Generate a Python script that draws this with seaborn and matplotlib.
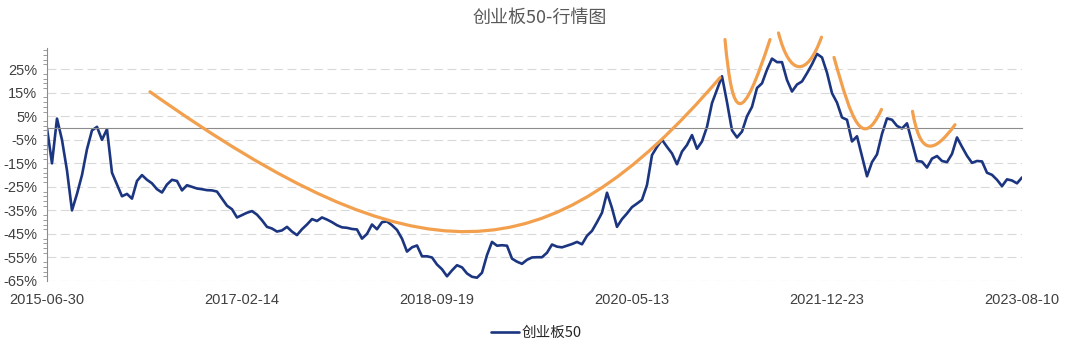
import numpy as np
import pandas as pd
import matplotlib
matplotlib.use('Agg')
import matplotlib.pyplot as plt
from matplotlib.path import Path
from matplotlib.patches import PathPatch
from matplotlib.ticker import FixedLocator
import seaborn as sns

# 创业板50 累计涨跌幅(%), 图上等距读数, 2015-06-30 -> 2023-08-10
values = [
    0.0, -15, 4.0, -5, -18, -35, -28, -20, -9, -1,
    0.5, -5, -0.5, -19, -24, -29, -28, -30, -22.5, -20,
    -22, -23.5, -26, -27.4, -24, -22, -22.5, -26.5, -24.3, -25,
    -25.7, -26, -26.4, -26.5, -27, -30, -33, -34.5, -38, -37,
    -36, -35.3, -36.8, -39.2, -42, -42.7, -44, -43.5, -42, -44,
    -45.5, -43, -41, -38.7, -39.5, -38, -38.9, -40, -41.3, -42.2,
    -42.4, -42.9, -43.1, -47, -45, -41, -43, -40, -39.7, -41.3,
    -43.3, -47, -52.5, -50.7, -49.9, -54.5, -54.5, -55, -58, -60,
    -63, -60.5, -58.3, -59.2, -61.8, -63.2, -63.6, -61.5, -54, -48.4,
    -50, -49.8, -50, -55.5, -56.8, -57.7, -56, -55, -54.9, -54.9,
    -53, -49.5, -50.4, -50.7, -50, -49.3, -48.4, -49.4, -45.8, -43.7,
    -40, -36, -27.5, -34, -42, -38.7, -36.3, -33.6, -32.1, -30.5,
    -24.2, -11.5, -8, -5, -8, -10.8, -15.4, -10, -7.2, -3,
    -8.8, -5.7, 0.5, 10.6, 16.3, 22, 11, -1, -4, -1.5,
    5, 9, 17, 19, 24.8, 29.5, 28, 28, 20.4, 15.5,
    18.5, 19.8, 23.3, 27.1, 31.5, 30, 23.5, 14.8, 10.8, 4.5,
    3.5, -5.7, -3.5, -12, -20.5, -14.5, -11.2, -2.5, 4.1, 3.5,
    0.9, -0.2, 2, -6, -14, -14.3, -16.8, -13, -11.9, -14,
    -14.5, -11, -4, -8, -11.8, -14.8, -14, -14.2, -19, -19.9,
    -22, -24.7, -21.8, -22.3, -23.5, -21,
]
date_labels = ['2015-06-30', '2017-02-14', '2018-09-19', '2020-05-13', '2021-12-23', '2023-08-10']
y_ticks = list(range(-65, 26, 10))

# 橙色手绘弧线: 起点, 控制点1, 控制点2, 终点 (x 为序号位置, y 为 %)
arc_big = [(20.6, 15.4), (74.0, -64.8), (99.8, -64.8), (134.6, 21.4)]
arc_v1 = [(135.6, 37.6), (137.2, 1.3), (139.0, 1.3), (144.6, 37.6)]
arc_v2 = [(146.3, 40.4), (148.6, 21.6), (152.0, 21.6), (154.9, 38.6)]
arc_v3 = [(157.4, 30), (161.0, 3), (163.0, -10), (166.9, 7.9)]
arc_v4 = [(173.1, 7.1), (174.6, -11), (177.0, -12), (181.6, 1.4)]
arcs = [arc_big, arc_v1, arc_v2, arc_v3, arc_v4]

df = pd.DataFrame({'pos': np.arange(len(values)), 'value': values})
label_pos = np.linspace(0, len(values) - 1, len(date_labels))

sns.set_style('white')
plt.rcParams['font.family'] = ['Liberation Sans', 'Noto Sans CJK SC', 'DejaVu Sans']

fig, ax = plt.subplots(figsize=(10.8, 3.57), dpi=100)
fig.subplots_adjust(left=0.0435, right=0.9463, bottom=0.2129, top=0.8655)

sns.lineplot(data=df, x='pos', y='value', ax=ax, color='#1B3580', lw=1.9, zorder=2)
if ax.get_legend() is not None:
    ax.get_legend().remove()

for arc in arcs:
    path = Path(arc, [Path.MOVETO, Path.CURVE4, Path.CURVE4, Path.CURVE4])
    ax.add_patch(PathPatch(path, fill=False, ec='#F2A04E', lw=2.3,
                           capstyle='round', clip_on=False, zorder=3))

ax.set_xlim(0, len(values) - 1)
ax.set_ylim(-65, 34)
ax.set(xlabel='', ylabel='')

ax.grid(axis='y', color='#D9D9D9', lw=0.8, ls=(0, (8, 4)))
ax.grid(axis='x', visible=False)

ax.spines['top'].set_visible(False)
ax.spines['right'].set_visible(False)
ax.spines['bottom'].set_position(('data', 0))
ax.spines['bottom'].set_color('#8C8C8C')
ax.spines['left'].set_color('#8C8C8C')

ax.set_xticks(np.linspace(0, len(values) - 1, 2 * len(date_labels) - 1))
ax.tick_params(axis='x', length=3.5, color='#8C8C8C', labelbottom=False, direction='out')

ax.set_yticks(y_ticks)
ax.set_yticklabels([f'{v}%' for v in y_ticks])
ax.yaxis.set_minor_locator(FixedLocator(np.arange(-65, 34, 2)))
ax.tick_params(axis='y', which='major', length=5, color='#8C8C8C', direction='out',
               labelsize=10.5, labelcolor='#404040', pad=2)
ax.tick_params(axis='y', which='minor', length=3, color='#8C8C8C', direction='out', left=True)

sec = ax.secondary_xaxis(0)
sec.set_xticks(label_pos, labels=date_labels)
sec.tick_params(length=0, pad=9, labelsize=10.5, labelcolor='#404040')
sec.spines['bottom'].set_visible(False)

fig.text(0.5, 0.95, '创业板50-行情图', ha='center', va='center',
         fontsize=13, color='#595959', family=['Noto Sans CJK SC', 'DejaVu Sans'])

fig.legend([ax.lines[0]], ['创业板50'], loc='center', bbox_to_anchor=(0.497, 0.067),
           frameon=False, handlelength=1.9, handletextpad=0.2,
           prop={'family': ['Noto Sans CJK SC', 'DejaVu Sans'], 'size': 10.5})

fig.savefig('out.png', dpi=100)
